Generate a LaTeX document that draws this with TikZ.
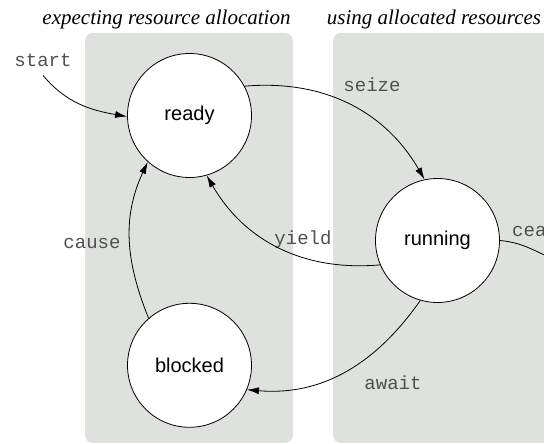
\documentclass[tikz,border=0pt]{standalone}
\usepackage{fontspec}
\setmainfont{Liberation Serif}
\setsansfont{Liberation Sans}
\setmonofont{Liberation Mono}
\usetikzlibrary{arrows.meta, positioning}
\definecolor{panelgray}{RGB}{222,225,221}
\definecolor{eventgray}{RGB}{80,80,80}

\begin{document}
\begin{tikzpicture}[x=1pt, y=1pt,
    state/.style={circle, draw=black, fill=white, line width=0.8pt,
                  minimum size=124pt, inner sep=0pt,
                  font=\sffamily\fontsize{20}{24}\selectfont},
    phase/.style={fill=panelgray, rounded corners=8pt},
    heading/.style={anchor=base, inner sep=0pt,
                    font=\itshape\fontsize{21}{25}\selectfont},
    event/.style={anchor=base, inner sep=0pt, text=eventgray,
                  font=\ttfamily\fontsize{19}{23}\selectfont},
    trans/.style={-{Latex[length=12pt, width=7pt]}, line width=0.8pt}
]

\useasboundingbox (0,0) rectangle (544,444);
\clip (0,0) rectangle (544,444);

% Phases
\fill[phase] (85,1) rectangle (293,411);
\fill[phase] (333,1) rectangle (600,411);
\node[heading] (waiting) at (166.5,419) {expecting resource allocation};
\node[heading] (using) at (434,419) {using allocated resources};

% States
\node[state] (ready) at (189.5,328.5) {ready};
\node[state] (running) at (437.5,203.5) {running};
\node[state, below=125pt of ready] (blocked) {blocked};

% Events
\node[event] (startlbl) at (43,377) {start};
\node[event] (seizelbl) at (372,352) {seize};
\node[event] (yieldlbl) at (303,199) {yield};
\node[event] (causelbl) at (92,195) {cause};
\node[event] (awaitlbl) at (393,54) {await};
\node[event, anchor=base west] (ceaselbl) at (512,207) {cease};
\coordinate (exit) at (565,180);

% Transitions
\draw[trans] ([yshift=-8pt]startlbl.south) to[out=-50, in=170] (ready.181);
\draw[trans] (ready.28) to[out=5, in=120] (running.102);
\draw[trans] (running.203) to[out=185, in=-60] (ready.286);
\draw[trans] (blocked.131) to[out=112, in=245] (ready.228);
\draw[trans] (running.254) to[out=235, in=-5] (blocked.-23);
\draw[line width=0.8pt] (running.0) to[out=-5, in=160] (exit);

\end{tikzpicture}
\end{document}
